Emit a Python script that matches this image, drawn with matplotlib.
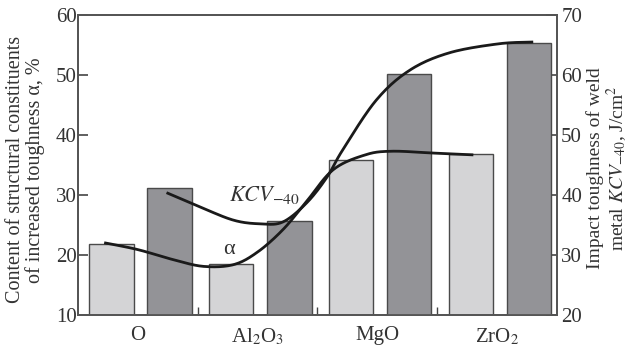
import numpy as np
import matplotlib
matplotlib.use('Agg')
import matplotlib.pyplot as plt
from matplotlib.ticker import FixedLocator

plt.rcParams['font.family'] = 'Liberation Serif'
plt.rcParams['mathtext.fontset'] = 'stix'

# DATA ______________________________________________________________________
categories = ['O', r'Al$_2$O$_3$', 'MgO', r'ZrO$_2$']
alpha_pct = [21.8, 18.5, 35.8, 36.8]          # light bars, left axis (%)
kcv_40 = [41.2, 35.7, 60.2, 65.3]             # dark bars, right axis (J/cm2)

# trend curves (x in category units)
alpha_curve_x = [-0.27, 0.0, 0.3, 0.55, 0.8, 1.0, 1.21, 1.4, 1.63, 1.9, 2.12, 2.46, 2.79]
alpha_curve_y = [22.0, 20.9, 19.2, 18.1, 18.4, 20.5, 24.2, 28.7, 34.2, 36.7, 37.3, 37.0, 36.7]
kcv_curve_x = [0.25, 0.52, 0.8, 1.02, 1.21, 1.41, 1.58, 1.71, 1.99, 2.27, 2.6, 3.01, 3.29]
kcv_curve_y = [40.3, 38.0, 35.8, 35.2, 35.5, 38.7, 43.0, 47.5, 55.8, 60.8, 63.7, 65.2, 65.5]
# ____________________________________________________________________________


def smooth(xs, ys, n=20):
    # Catmull-Rom through the read-off points
    p = np.column_stack([xs, ys]).astype(float)
    p = np.vstack([p[0], p, p[-1]])
    out = []
    t = np.linspace(0, 1, n, endpoint=False)[:, None]
    for i in range(1, len(p) - 2):
        p0, p1, p2, p3 = p[i - 1], p[i], p[i + 1], p[i + 2]
        seg = 0.5 * ((2 * p1) + (-p0 + p2) * t + (2 * p0 - 5 * p1 + 4 * p2 - p3) * t ** 2
                     + (-p0 + 3 * p1 - 3 * p2 + p3) * t ** 3)
        out.append(seg)
    out.append(p[-2][None, :])
    out = np.vstack(out)
    return out[:, 0], out[:, 1]


fig = plt.figure(figsize=(6.29, 3.5), dpi=100)
ax = fig.add_axes([0.124, 0.1, 0.7615, 0.857])
ax2 = ax.twinx()

x = np.arange(len(categories))
w = 0.37
ax.bar(x - 0.22, alpha_pct, width=w, bottom=0, color='#d4d4d6', edgecolor='#4a4a4a', linewidth=1.0, zorder=2)
ax2.bar(x + 0.265, kcv_40, width=w, bottom=0, color='#939397', edgecolor='#4a4a4a', linewidth=1.0, zorder=2)

# alpha curve is on the left scale; right scale is left + 10
sx, sy = smooth(alpha_curve_x, alpha_curve_y)
ax2.plot(sx, np.array(sy) + 10, color='#1a1a1a', linewidth=2.0, zorder=5)
kx, ky = smooth(kcv_curve_x, kcv_curve_y)
ax2.plot(kx, ky, color='#1a1a1a', linewidth=2.0, zorder=5)

ax.set_xlim(-0.5, 3.5)
ax.set_ylim(10, 60)
ax2.set_ylim(20, 70)

ax.set_xticks(x)
ax.set_xticklabels(categories, fontsize=15, color='#333333')
ax.xaxis.set_minor_locator(FixedLocator([0.5, 1.5, 2.5]))
ax.tick_params(axis='x', which='major', length=0, pad=8)
ax.tick_params(axis='x', which='minor', direction='in', length=6, width=1.0, color='#444444')

ax.set_yticks([10, 20, 30, 40, 50, 60])
ax.tick_params(axis='y', direction='in', length=7, width=1.2, pad=1, labelsize=15,
               color='#444444', labelcolor='#333333')
ax2.set_yticks([20, 30, 40, 50, 60, 70])
ax2.tick_params(axis='y', direction='in', length=8, width=1.2, pad=3, labelsize=15,
                color='#444444', labelcolor='#333333')

for a in (ax, ax2):
    for s in a.spines.values():
        s.set_color('#555555')
        s.set_linewidth(1.3)

ax2.text(1.06, 30 + 10, r'$\mathit{KCV}_{\mathrm{-40}}$', fontsize=16, ha='center', va='center',
         color='#333333', zorder=6)
ax2.text(0.76, 21 + 10, '\u03b1', fontsize=16, ha='center', va='center', color='#333333', zorder=6)

fig.text(0.04, 0.515, 'Content of structural constituents\nof increased toughness \u03b1, %',
         rotation=90, ha='center', va='center', fontsize=14.5, color='#333333', linespacing=1.0)
fig.text(0.966, 0.52, 'Impact toughness of weld\nmetal $\\mathit{KCV}_{-40}$, J/cm$^2$',
         rotation=90, ha='center', va='center', fontsize=14, color='#333333', linespacing=1.0)

fig.savefig('out.png', dpi=100)
